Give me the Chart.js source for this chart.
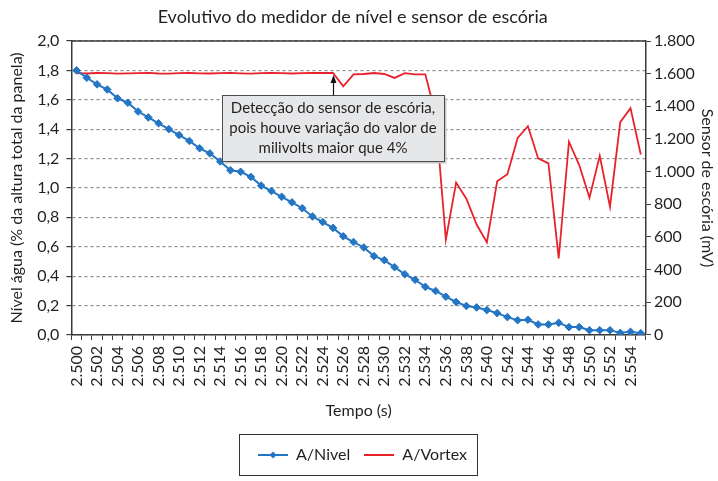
<!DOCTYPE html>
<html>
<head>
<meta charset="utf-8">
<script src="https://cdn.jsdelivr.net/npm/chart.js@4/dist/chart.umd.min.js"></script>
<style>
  html, body { margin: 0; padding: 0; background: #fff; }
</style>
</head>
<body>
<canvas id="chart" width="718" height="481"></canvas>
<script>
// Tempo (s), one point every millisecond
const times = [
  '2.500', '2.501', '2.502', '2.503', '2.504', '2.505', '2.506', '2.507', '2.508', '2.509',
  '2.510', '2.511', '2.512', '2.513', '2.514', '2.515', '2.516', '2.517', '2.518', '2.519',
  '2.520', '2.521', '2.522', '2.523', '2.524', '2.525', '2.526', '2.527', '2.528', '2.529',
  '2.530', '2.531', '2.532', '2.533', '2.534', '2.535', '2.536', '2.537', '2.538', '2.539',
  '2.540', '2.541', '2.542', '2.543', '2.544', '2.545', '2.546', '2.547', '2.548', '2.549',
  '2.550', '2.551', '2.552', '2.553', '2.554', '2.555'
];

// A/Nivel - left axis (% da altura total da panela)
const nivel = [
  1.80, 1.75, 1.705, 1.67, 1.61, 1.58, 1.52, 1.48, 1.44, 1.40,
  1.36, 1.32, 1.27, 1.235, 1.18, 1.12, 1.11, 1.075, 1.016, 0.979,
  0.94, 0.902, 0.862, 0.806, 0.768, 0.728, 0.671, 0.632, 0.595, 0.536,
  0.509, 0.461, 0.413, 0.375, 0.327, 0.299, 0.26, 0.224, 0.197, 0.187,
  0.169, 0.148, 0.121, 0.10, 0.103, 0.071, 0.071, 0.082, 0.053, 0.053,
  0.032, 0.032, 0.032, 0.014, 0.021, 0.011
];

// A/Vortex - right axis (mV)
const vortex = [
  1603, 1601, 1604, 1603, 1600, 1602, 1603, 1605, 1601, 1600,
  1603, 1604, 1602, 1601, 1603, 1605, 1602, 1600, 1603, 1604,
  1603, 1601, 1603, 1604, 1605, 1604, 1522, 1595, 1598, 1604,
  1598, 1574, 1603, 1596, 1596, 1350, 584, 933, 834, 676,
  567, 941, 984, 1206, 1278, 1081, 1050, 468, 1183, 1040,
  840, 1097, 785, 1303, 1389, 1105
];

const leftTickLabels = ['0,0', '0,2', '0,4', '0,6', '0,8', '1,0', '1,2', '1,4', '1,6', '1,8', '2,0'];
const rightTickLabels = ['0', '200', '400', '600', '800', '1.000', '1.200', '1.400', '1.600', '1.800'];

const chartTitle = 'Evolutivo do medidor de nível e sensor de escória';
const noteLines = [
  'Detecção do sensor de escória,',
  'pois houve variação do valor de',
  'milivolts maior que 4%'
];
const noteIndex = 25;

const FONT = 'Lato';
const TEXT = '#231f20';
const AXIS = '#3a3a3a';
const BLUE = '#2476c3';
const RED = '#e8222c';

function legendIcon(color, marker) {
  const c = document.createElement('canvas');
  c.width = 30; c.height = 10;
  const g = c.getContext('2d');
  g.strokeStyle = color;
  g.lineWidth = 2;
  g.beginPath(); g.moveTo(0, 5); g.lineTo(30, 5); g.stroke();
  if (marker) {
    g.fillStyle = color;
    g.beginPath(); g.moveTo(15, 1.5); g.lineTo(18.5, 5); g.lineTo(15, 8.5); g.lineTo(11.5, 5); g.closePath(); g.fill();
  }
  return c;
}

const framePlugin = {
  id: 'frame',
  afterDraw(chart) {
    const ctx = chart.ctx;
    const a = chart.chartArea;
    ctx.save();
    // chart title, centred a little left of the plot centre like the original
    ctx.fillStyle = TEXT;
    ctx.font = '18px ' + FONT;
    ctx.textAlign = 'center';
    ctx.textBaseline = 'middle';
    ctx.fillText(chartTitle, (a.left + a.right) / 2 - 6, 17);

    // top border of plot area
    ctx.strokeStyle = AXIS;
    ctx.lineWidth = 1.5;
    ctx.beginPath(); ctx.moveTo(a.left, a.top); ctx.lineTo(a.right, a.top); ctx.stroke();

    // border around legend
    const boxes = chart.legend.legendHitBoxes;
    if (boxes && boxes.length) {
      const l = boxes[0].left - 19;
      const last = boxes[boxes.length - 1];
      const r = last.left + last.width + 10;
      const t = boxes[0].top - 13;
      const h = boxes[0].height + 25;
      ctx.lineWidth = 1;
      ctx.strokeStyle = '#333';
      ctx.strokeRect(Math.round(l) + 0.5, Math.round(t) + 0.5, Math.round(r - l), Math.round(h));
    }

    // annotation box with arrow
    const x = chart.scales.x.getPixelForValue(noteIndex);
    const yPt = chart.scales.y1.getPixelForValue(vortex[noteIndex]);
    const bw = 222, bh = 66;
    const bx = Math.round(x - bw / 2) + 0.5;
    const by = Math.round(a.top + 54) + 0.5;
    ctx.fillStyle = '#c8c8c8';
    ctx.fillRect(bx + 2, by + 2, bw, bh);
    ctx.fillStyle = '#e6e7e8';
    ctx.fillRect(bx, by, bw, bh);
    ctx.strokeStyle = '#4d4d4d';
    ctx.lineWidth = 1;
    ctx.strokeRect(bx, by, bw, bh);
    ctx.fillStyle = TEXT;
    ctx.font = '15px ' + FONT;
    noteLines.forEach((s, i) => ctx.fillText(s, x, by + 13 + i * 20));
    // arrow
    ctx.strokeStyle = '#111';
    ctx.fillStyle = '#111';
    ctx.lineWidth = 1.2;
    const ax = Math.round(x) + 0.5;
    ctx.beginPath(); ctx.moveTo(ax, by); ctx.lineTo(ax, yPt + 8); ctx.stroke();
    ctx.beginPath(); ctx.moveTo(ax, yPt + 2); ctx.lineTo(ax - 3, yPt + 10); ctx.lineTo(ax + 3, yPt + 10); ctx.closePath(); ctx.fill();
    ctx.restore();
  }
};

const ctx = document.getElementById('chart').getContext('2d');
new Chart(ctx, {
  type: 'line',
  data: {
    labels: times,
    datasets: [
      {
        label: 'A/Nivel',
        data: nivel,
        yAxisID: 'y',
        borderColor: BLUE,
        backgroundColor: BLUE,
        borderWidth: 2,
        pointStyle: 'rectRot',
        pointRadius: 3.8,
        pointBorderWidth: 1,
        tension: 0
      },
      {
        label: 'A/Vortex',
        data: vortex,
        yAxisID: 'y1',
        borderColor: RED,
        backgroundColor: RED,
        borderWidth: 1.8,
        pointRadius: 0,
        tension: 0
      }
    ]
  },
  options: {
    responsive: false,
    animation: false,
    layout: { padding: { left: 7, right: 0, top: 41, bottom: 8 } },
    plugins: {
      title: { display: false },
      legend: {
        position: 'bottom',
        labels: {
          usePointStyle: true,
          pointStyleWidth: 30,
          padding: 14,
          color: TEXT,
          font: { family: FONT, size: 16 },
          generateLabels(chart) {
            return chart.data.datasets.map((ds, i) => ({
              text: ds.label,
              datasetIndex: i,
              fontColor: TEXT,
              hidden: false,
              lineWidth: 0,
              pointStyle: legendIcon(ds.borderColor, i === 0)
            }));
          }
        }
      },
      tooltip: { enabled: false }
    },
    scales: {
      x: {
        offset: true,
        grid: { offset: true, drawOnChartArea: false, tickLength: 5, tickColor: AXIS, tickWidth: 1 },
        border: { color: AXIS, width: 1.5 },
        ticks: {
          autoSkip: false,
          minRotation: 90,
          maxRotation: 90,
          padding: 6,
          color: TEXT,
          font: { family: FONT, size: 16 },
          callback: (v, i) => (i % 2 === 0 ? times[i] : '')
        },
        title: {
          display: true,
          text: 'Tempo (s)',
          color: TEXT,
          font: { family: FONT, size: 16 },
          padding: { top: 8, bottom: 13 }
        }
      },
      y: {
        position: 'left',
        min: 0,
        max: 2,
        ticks: {
          stepSize: 0.2,
          padding: 7,
          color: TEXT,
          font: { family: FONT, size: 16 },
          callback: (v, i) => leftTickLabels[i]
        },
        grid: { color: '#8e8e8e', lineWidth: 1.2, tickColor: AXIS, tickLength: 5 },
        border: { color: AXIS, width: 1.5, dash: [3, 3] },
        title: {
          display: true,
          text: 'Nível água (% da altura total da panela)',
          color: TEXT,
          font: { family: FONT, size: 16 },
          padding: { top: 0, bottom: 4 }
        }
      },
      y1: {
        position: 'right',
        min: 0,
        max: 1800,
        ticks: {
          stepSize: 200,
          padding: 3,
          color: TEXT,
          font: { family: FONT, size: 16 },
          callback: (v, i) => rightTickLabels[i]
        },
        grid: { drawOnChartArea: false, tickColor: AXIS, tickLength: 5 },
        border: { color: AXIS, width: 1.5 },
        title: {
          display: true,
          text: 'Sensor de escória (mV)',
          color: TEXT,
          font: { family: FONT, size: 16 },
          padding: { top: 1, bottom: 0 }
        }
      }
    }
  },
  plugins: [framePlugin]
});
</script>
</body>
</html>
